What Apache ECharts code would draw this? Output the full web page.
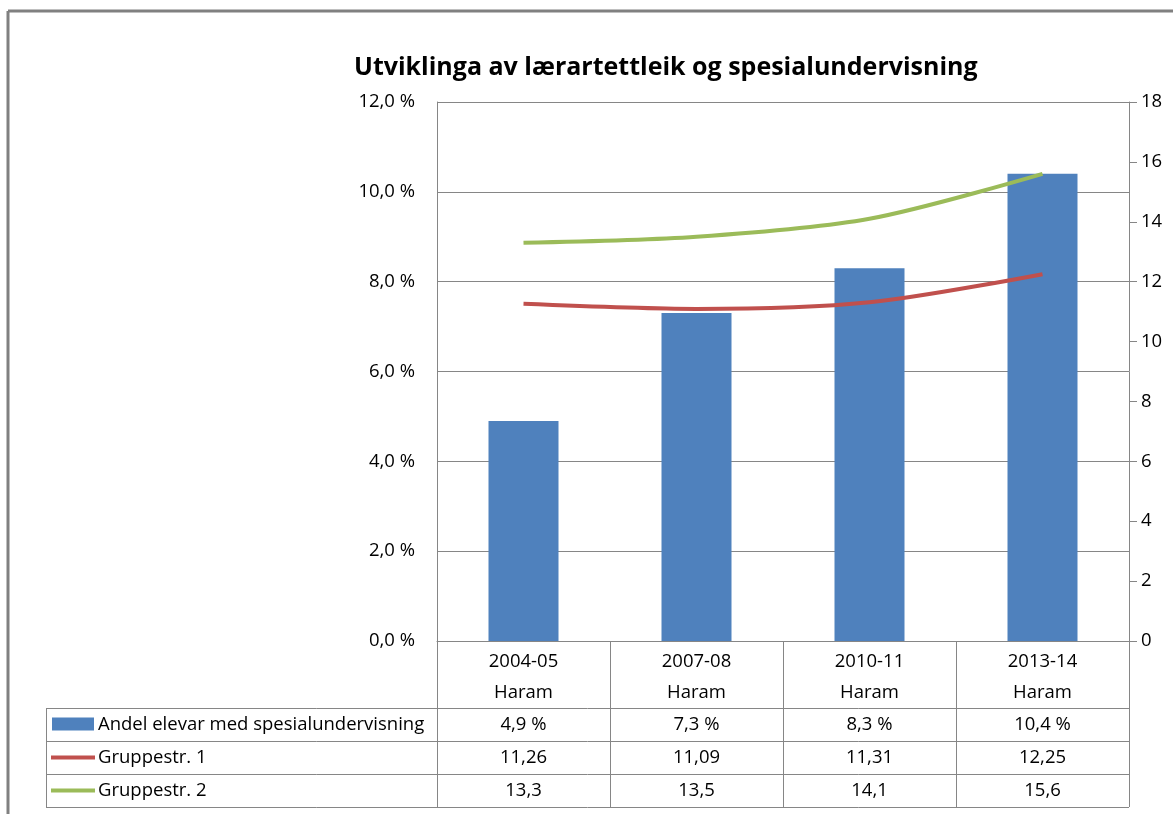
<!DOCTYPE html>
<html>
<head>
<meta charset="utf-8">
<script src="https://cdn.jsdelivr.net/npm/echarts@6/dist/echarts.min.js"></script>
<style>
  html, body { margin: 0; padding: 0; background: #fff; }
  #chart { width: 1173px; height: 814px; }
</style>
</head>
<body>
<div id="chart"></div>
<script>
const categories = ['2004-05', '2007-08', '2010-11', '2013-14']
const regions = ['Haram', 'Haram', 'Haram', 'Haram']
const andelSpes = [4.9, 7.3, 8.3, 10.4]
const gruppestr1 = [11.26, 11.09, 11.31, 12.25]
const gruppestr2 = [13.3, 13.5, 14.1, 15.6]
const seriesNames = ['Andel elevar med spesialundervisning', 'Gruppestr. 1', 'Gruppestr. 2']
const leftTicks = { min: 0, max: 12, interval: 2 }
const rightTicks = { min: 0, max: 18, interval: 2 }

const FONT = '"Open Sans", "Noto Sans", sans-serif'
const FS = 18.5
const GRAY = '#868686'
const COLORS = ['#4F81BD', '#C0504D', '#9BBB59']

// layout
const gridLeft = 437
const gridRight = 1129
const gridTop = 102
const gridBottom = 641
const rowLines = [708, 741, 774, 807]
const tableLeft = 46

const comma = (v, d) => v.toFixed(d).replace('.', ',')
const tableText = [
  andelSpes.map(v => comma(v, 1) + ' %'),
  gruppestr1.map(v => comma(v, 2)),
  gruppestr2.map(v => comma(v, 1))
]

const chart = echarts.init(document.getElementById('chart'), null, { renderer: 'canvas' })

const option = {
  animation: false,
  backgroundColor: '#fff',
  textStyle: { fontFamily: FONT },
  title: {
    text: 'Utviklinga av lærartettleik og spesialundervisning',
    left: 349,
    top: 50,
    textStyle: { fontFamily: FONT, fontSize: 25, fontWeight: 'bold', color: '#000' }
  },
  grid: {
    left: gridLeft,
    right: 1173 - gridRight,
    top: gridTop,
    bottom: 814 - gridBottom
  },
  xAxis: {
    type: 'category',
    data: categories,
    axisLine: { lineStyle: { color: GRAY, width: 1 } },
    axisTick: { show: false },
    axisLabel: {
      margin: 5,
      formatter: (v, i) => `{a|${v}}\n{a|${regions[i]}}`,
      rich: { a: { fontFamily: FONT, fontSize: FS, color: '#000', lineHeight: 31 } }
    }
  },
  yAxis: [
    {
      type: 'value',
      ...leftTicks,
      axisLine: { show: true, lineStyle: { color: GRAY } },
      axisTick: { show: false },
      axisLabel: {
        margin: 22,
        fontFamily: FONT,
        fontSize: FS,
        color: '#000',
        formatter: v => comma(v, 1) + ' %'
      },
      splitLine: { lineStyle: { color: GRAY, width: 1 } }
    },
    {
      type: 'value',
      ...rightTicks,
      axisLine: { show: true, lineStyle: { color: GRAY } },
      axisTick: { show: true, length: 8, lineStyle: { color: GRAY } },
      axisLabel: { margin: 12, fontFamily: FONT, fontSize: FS, color: '#000' },
      splitLine: { show: false }
    }
  ],
  series: [
    {
      name: seriesNames[0],
      type: 'bar',
      data: andelSpes,
      barWidth: 70,
      itemStyle: { color: COLORS[0] }
    },
    {
      name: seriesNames[1],
      type: 'line',
      yAxisIndex: 1,
      data: gruppestr1,
      smooth: 0.3,
      symbol: 'none',
      lineStyle: { color: COLORS[1], width: 4 },
      z: 3
    },
    {
      name: seriesNames[2],
      type: 'line',
      yAxisIndex: 1,
      data: gruppestr2,
      smooth: 0.3,
      symbol: 'none',
      lineStyle: { color: COLORS[2], width: 4 },
      z: 3
    }
  ]
}

chart.setOption(option)

// data table under the plot
function buildTable() {
  const g = []
  const line = (x1, y1, x2, y2, w, c) => ({
    type: 'line',
    shape: { x1, y1, x2, y2 },
    style: { stroke: c || GRAY, lineWidth: w || 1 },
    silent: true
  })

  // outer chart frame
  g.push(line(8, 11, 1173, 11, 3, '#808080'))
  g.push(line(8, 11, 8, 814, 3, '#808080'))

  const band = (gridRight - gridLeft) / categories.length
  for (let i = 0; i <= categories.length; i++) {
    const x = Math.round(gridLeft + i * band) + 0.5
    g.push(line(x, gridBottom, x, rowLines[rowLines.length - 1]))
  }
  rowLines.forEach(y => g.push(line(tableLeft, y + 0.5, gridRight, y + 0.5)))
  g.push(line(tableLeft + 0.5, rowLines[0], tableLeft + 0.5, rowLines[rowLines.length - 1]))

  seriesNames.forEach((name, r) => {
    const yc = (rowLines[r] + rowLines[r + 1]) / 2
    if (r === 0) {
      g.push({ type: 'rect', shape: { x: 52, y: yc - 7, width: 42, height: 13 }, style: { fill: COLORS[0] }, silent: true })
    } else {
      g.push(line(51, yc, 95, yc, 4, COLORS[r]))
    }
    g.push({
      type: 'text', x: 98, y: yc, silent: true,
      style: { text: name, fontFamily: FONT, fontSize: FS, fill: '#000', align: 'left', verticalAlign: 'middle' }
    })
    tableText[r].forEach((t, i) => {
      const xc = chart.convertToPixel({ xAxisIndex: 0 }, categories[i])
      g.push({
        type: 'text', x: xc, y: yc, silent: true,
        style: { text: t, fontFamily: FONT, fontSize: FS, fill: '#000', align: 'center', verticalAlign: 'middle' }
      })
    })
  })
  chart.setOption({ graphic: g })
}

buildTable()
</script>
</body>
</html>
